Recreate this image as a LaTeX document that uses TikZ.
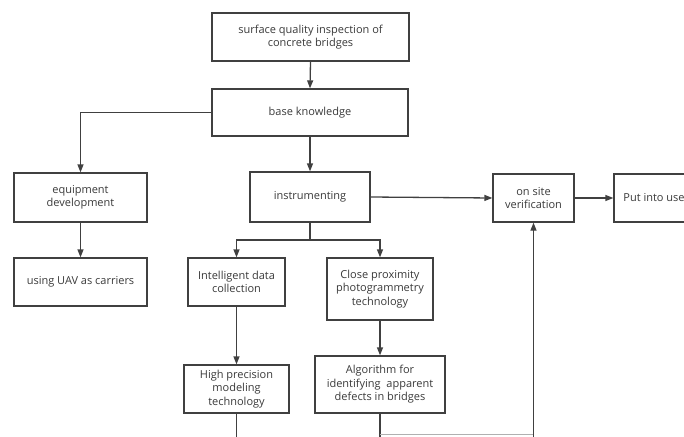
\documentclass[tikz,border=0pt]{standalone}
\usepackage{fontspec}
\setmainfont{Open Sans}
\usetikzlibrary{arrows.meta}
\definecolor{ln}{HTML}{404040}
\definecolor{tx}{HTML}{3A3A3A}
\definecolor{faint}{HTML}{B0B0B0}
\begin{document}
\begin{tikzpicture}[x=1pt,y=-1pt,
  box/.style={draw=ln,line width=1.3pt,fill=white,text=tx,align=center,inner sep=0pt,
    font=\fontsize{11}{13.5}\selectfont},
  conn/.style={draw=ln,line width=1.3pt},
  arr/.style={conn,-{Triangle[length=8pt,width=6pt]}}]
\useasboundingbox (0,0) rectangle (684,436);
\clip (0,0) rectangle (684,436);
\node[box,minimum width=197,minimum height=48] (top) at (310.5,37) {surface quality inspection of\\concrete bridges};
\node[box,minimum width=196,minimum height=47] (base) at (310,112.5) {base knowledge};
\node[box,minimum width=133,minimum height=49] (equip) at (80.5,197.5) {equipment\\development};
\node[box,minimum width=133,minimum height=48] (uav) at (80.5,282) {using UAV as carriers};
\node[box,minimum width=120,minimum height=50] (instr) at (310,197) {instrumenting};
\node[box,minimum width=81,minimum height=48] (onsite) at (533.5,198) {on site\\verification};
\node[box,minimum width=80,minimum height=48] (use) at (654,198) {Put into use};
\node[box,minimum width=97,minimum height=48] (intel) at (236.5,282) {Intelligent data\\collection};
\node[box,minimum width=106,minimum height=62] (close) at (380,289) {Close proximity\\photogrammetry\\technology};
\node[box,minimum width=105,minimum height=48] (high) at (236.5,389) {High precision\\modeling\\technology};
\node[box,minimum width=130,minimum height=57] (algo) at (380,384.5) {Algorithm for\\identifying\ \ apparent\\defects in bridges};
\coordinate (split) at (310,240);
\coordinate (highend) at (236.5,440);
\coordinate (algoturn) at (380,434);
\coordinate (algoend) at (380,440);
\coordinate (vturn) at (533.5,434);
\coordinate (vend) at (533.5,440);
\draw[arr] (top.south) -- (base.north);
\draw[arr] (base.west) -| (equip.north);
\draw[arr] (equip.south) -- (uav.north);
\draw[arr] (base.south) -- (instr.north);
\draw[conn] (instr.south) -- (split);
\draw[arr] (split) -| (intel.north);
\draw[arr] (split) -| (close.north);
\draw[arr] (instr.east) -- (onsite.west);
\draw[arr] (onsite.east) -- (use.west);
\draw[arr] (intel.south) -- (high.north);
\draw[arr] (close.south) -- (algo.north);
\draw[conn] (high.south) -- (highend);
\draw[conn] (algo.south) -- (algoend);
\draw[draw=faint,line width=0.8pt] (algoturn) -- (vturn);
\draw[arr] (vend) -- (onsite.south);
\end{tikzpicture}
\end{document}
